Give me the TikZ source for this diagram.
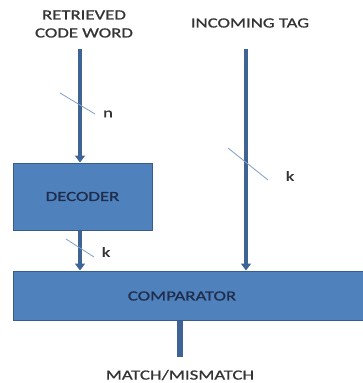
\documentclass[tikz,border=0pt]{standalone}
\usepackage{fontspec}
\setmainfont{Carlito}
\newfontfamily\widefont[FakeStretch=1.34,FakeBold=0.8]{Carlito}
\usetikzlibrary{arrows.meta}
\definecolor{boxblue}{HTML}{4F81BD}
\definecolor{boxedge}{HTML}{385D8A}
\definecolor{boxtext}{HTML}{1F2D4A}
\definecolor{labtext}{HTML}{333333}
\definecolor{slashc}{HTML}{7F9FC8}
\tikzset{
  blk/.style={draw=boxedge, line width=1pt, fill=boxblue, text=boxtext, font=\widefont\fontsize{14}{15}\selectfont, inner sep=0pt},
  lab/.style={text=labtext, font=\widefont\fontsize{14}{18}\selectfont, align=center, inner sep=0pt},
  bus/.style={draw=boxedge!80!boxblue, line width=4pt, -{Triangle[width=10pt,length=7pt]}},
  slash/.style={draw=slashc, line width=0.8pt},
  wlab/.style={text=labtext, font=\widefont\fontsize{14}{15}\selectfont, inner sep=0pt}
}
\begin{document}
\begin{tikzpicture}[x=1pt,y=-1pt]
\useasboundingbox (0,0) rectangle (362,383);
\node[lab] (rcw) at (84,24) {RETRIEVED\\CODE WORD};
\node[lab] (tag) at (250,23) {INCOMING TAG};
\node[blk, minimum width=139pt, minimum height=67pt] (dec) at (82.5,196.5) {DECODER};
\node[blk, minimum width=352pt, minimum height=49pt] (cmp) at (189,295.5) {};
\node[text=boxtext, font=\widefont\fontsize{14}{15}\selectfont, inner sep=0pt] (cmpt) at (182,296) {COMPARATOR};
\coordinate (a1) at (80,49);
\coordinate (b1) at (246,49);
\coordinate (out) at (180,357);
\draw[bus] (a1) -- (a1 |- dec.north);
\draw[bus] (dec.south -| a1) -- (a1 |- cmp.north);
\draw[bus] (b1) -- (b1 |- cmp.north);
\draw[draw=boxedge!80!boxblue, line width=6pt] (cmp.south -| out) -- (out);
\node[lab] (mm) at (180,375) {MATCH/MISMATCH};
% width slashes
\coordinate (s1a) at (60,93); \coordinate (s1b) at (95,114);
\coordinate (s2a) at (66,239); \coordinate (s2b) at (94,257);
\coordinate (s3a) at (228,148); \coordinate (s3b) at (268,180);
\draw[slash] (s1a) -- (s1b);
\draw[slash] (s2a) -- (s2b);
\draw[slash] (s3a) -- (s3b);
\node[wlab] (n1) at (108,114) {n};
\node[wlab] (k1) at (106,252) {k};
\node[wlab] (k2) at (290,176) {k};
\end{tikzpicture}
\end{document}
